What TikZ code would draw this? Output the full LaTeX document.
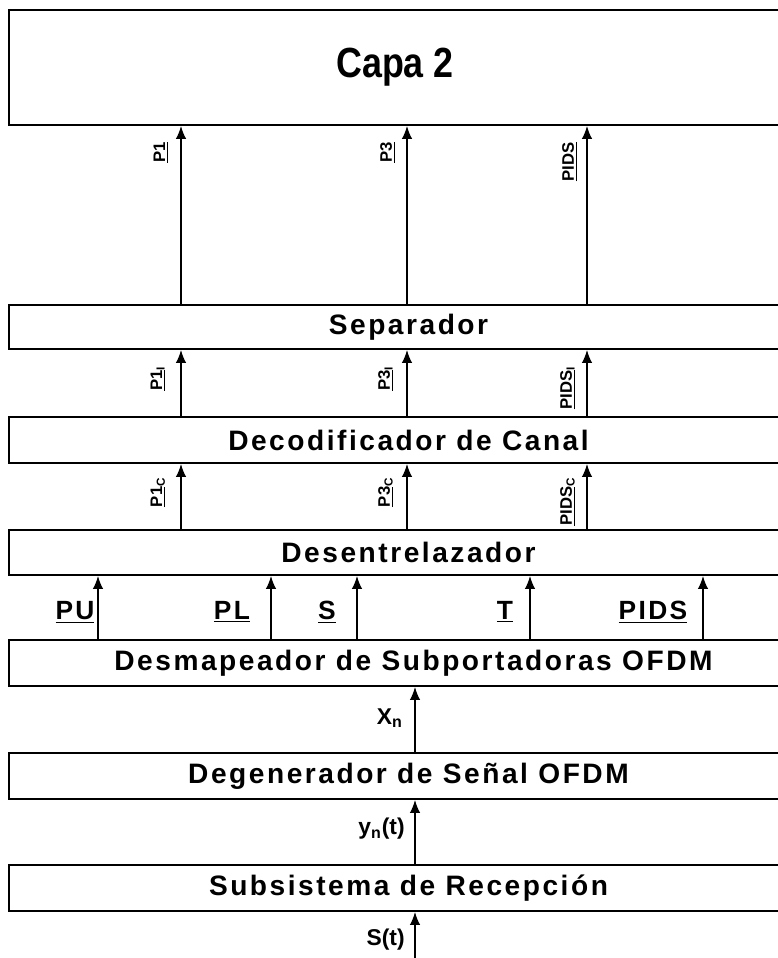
\documentclass[tikz,border=0pt]{standalone}
\usepackage{fontspec}
\setmainfont{Liberation Sans}
\newfontfamily\boxfont[LetterSpace=9]{Liberation Sans}
\newfontfamily\capafont[FakeStretch=0.85]{Liberation Sans}
\usetikzlibrary{arrows.meta,positioning,calc}

\begin{document}
\begin{tikzpicture}[
        x=0.02cm, y=-0.02cm,
        layer/.style={rectangle, draw=black, line width=1.1pt, fill=white, minimum width=15.98cm, minimum height=0.9cm, inner sep=0pt, font=\boxfont\fontsize{16}{18}\selectfont\bfseries},
        arrow/.style={-{Latex[length=2.6mm,width=2.1mm]}, line width=0.8pt},
        vlabel/.style={rotate=90, anchor=south east, inner sep=0pt, font=\fontsize{9.5}{11}\selectfont\bfseries},
        hlabel/.style={inner sep=0pt, font=\boxfont\fontsize{15}{17}\selectfont\bfseries}
    ]
        \useasboundingbox (0,0) rectangle (778,958);

        % Layers
        \node[layer, minimum width=15.44cm, minimum height=2.3cm, font=\capafont\fontsize{24}{28}\selectfont\bfseries] (capa) at (395,67.5) {Capa 2};
        \node[layer, minimum height=0.88cm] (sep) at (408.5,327) {Separador};
        \node[layer, minimum height=0.92cm] (dec) at (408.5,440) {Decodificador de Canal};
        \node[layer] (des) at (408.5,552.5) {Desentrelazador};
        \node[layer, minimum width=16.18cm, minimum height=0.92cm] (dsm) at (413.5,663) {Desmapeador de Subportadoras OFDM};
        \node[layer, minimum height=0.92cm] (deg) at (408.5,776) {Degenerador de Señal OFDM};
        \node[layer, minimum height=0.92cm] (rec) at (408.5,888) {Subsistema de Recepción};

        % Columns
        \coordinate (c1) at (181,0);
        \coordinate (c2) at (407,0);
        \coordinate (c3) at (587,0);
        \coordinate (pu) at (98,0);
        \coordinate (pl) at (271,0);
        \coordinate (ps) at (357,0);
        \coordinate (pt) at (530,0);
        \coordinate (pids) at (703,0);
        \coordinate (mid) at (415,0);
        \coordinate (in) at (415,960);

        % Streams
        \foreach \c in {c1,c2,c3} {
            \draw[arrow] (sep.north -| \c) -- (capa.south -| \c);
            \draw[arrow] (dec.north -| \c) -- (sep.south -| \c);
            \draw[arrow] (des.north -| \c) -- (dec.south -| \c);
        }
        \foreach \c in {pu,pl,ps,pt,pids}
            \draw[arrow] (dsm.north -| \c) -- (des.south -| \c);
        \draw[arrow] (deg.north -| mid) -- (dsm.south -| mid);
        \draw[arrow] (rec.north -| mid) -- (deg.south -| mid);
        \draw[arrow] (in) -- (rec.south -| mid);

        % Stream labels
        \node[vlabel] (l1) at (169,142) {\underline{P1}};
        \node[vlabel] (l2) at (396,142) {\underline{P3}};
        \node[vlabel] (l3) at (578,142) {\underline{PIDS}};
        \node[vlabel] (l4) at (166,366) {\underline{P1}\textsubscript{I}};
        \node[vlabel] (l5) at (394,366) {\underline{P3}\textsubscript{I}};
        \node[vlabel] (l6) at (576,366) {\underline{PIDS}\textsubscript{I}};
        \node[vlabel] (l7) at (166,477) {\underline{P1}\textsubscript{C}};
        \node[vlabel] (l8) at (394,477) {\underline{P3}\textsubscript{C}};
        \node[vlabel] (l9) at (576,477) {\underline{PIDS}\textsubscript{C}};

        \node[hlabel] (lpu) at (75,612) {\underline{PU}};
        \node[hlabel] (lpl) at (232,612) {\underline{PL}};
        \node[hlabel] (lps) at (327,612) {\underline{S}};
        \node[hlabel] (lpt) at (505,612) {\underline{T}};
        \node[hlabel] (lpids) at (653,612) {\underline{PIDS}};

        \node[hlabel, font=\fontsize{13}{15}\selectfont\bfseries, anchor=east] (lx) at (403,718) {X\textsubscript{n}};
        \node[hlabel, font=\fontsize{13}{15}\selectfont\bfseries, anchor=east] (ly) at (405,829) {y\textsubscript{n}(t)};
        \node[hlabel, font=\fontsize{13}{15}\selectfont\bfseries, anchor=east] (lst) at (405,940) {S(t)};

    \end{tikzpicture}
\end{document}
